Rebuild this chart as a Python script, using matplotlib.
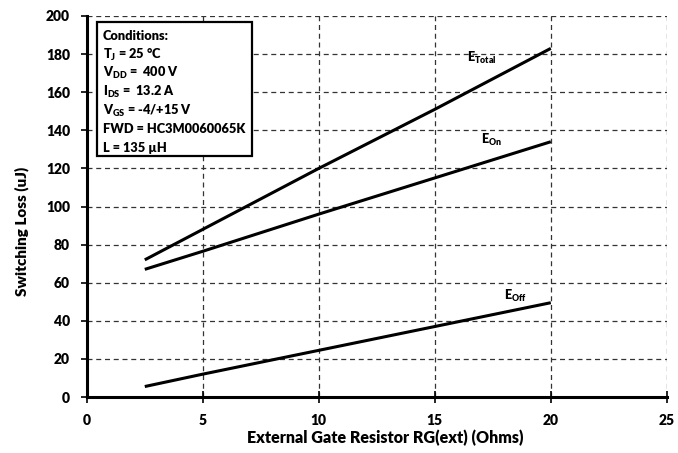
import matplotlib
matplotlib.use("Agg")
import matplotlib.pyplot as plt
from matplotlib.patches import Rectangle

plt.rcParams['font.family'] = ['Lato', 'DejaVu Sans']
plt.rcParams['mathtext.fontset'] = 'custom'
plt.rcParams['mathtext.rm'] = 'Lato'
plt.rcParams['mathtext.bf'] = 'Lato:heavy'
plt.rcParams['mathtext.it'] = 'Lato:italic'

# Data
rg = [2.5, 5, 10, 15, 20]
e_total = [72, 88, 120, 151, 183]
e_on = [67, 76.5, 96, 115, 134]
e_off = [5.5, 12, 24.5, 37, 49.5]

x_ticks = [0, 5, 10, 15, 20, 25]
y_ticks = [0, 20, 40, 60, 80, 100, 120, 140, 160, 180, 200]

conditions = [
    "Conditions:",
    r"T$_{\mathbf{J}}$ = 25 °C",
    r"V$_{\mathbf{DD}}$ =  400 V",
    r"I$_{\mathbf{DS}}$ =  13.2 A",
    r"V$_{\mathbf{GS}}$ = -4/+15 V",
    "FWD = HC3M0060065K",
    "L = 135 µH",
]

fig = plt.figure(figsize=(6.78, 4.53), dpi=100)
ax = fig.add_axes([0.128, 0.1236, 0.8555, 0.8411])

for y in (e_total, e_on, e_off):
    ax.plot(rg, y, color='black', linewidth=2.2, solid_capstyle='butt', zorder=3)

ax.set_xlim(0, 25)
ax.set_ylim(0, 200)
ax.set_xticks(x_ticks)
ax.set_yticks(y_ticks)
ax.grid(True, linestyle=(0, (4, 3)), color='#333333', linewidth=0.9)
ax.set_axisbelow(True)

for s in ('top', 'right'):
    ax.spines[s].set_visible(False)
for s in ('left', 'bottom'):
    ax.spines[s].set_linewidth(2.2)

ax.tick_params(axis='y', direction='out', length=4, width=1.2, labelsize=10, pad=8)
ax.tick_params(axis='x', direction='inout', length=8, width=1.2, labelsize=10, pad=8)
for lbl in ax.get_xticklabels() + ax.get_yticklabels():
    lbl.set_fontweight('heavy')

ax.set_xlabel("External Gate Resistor RG(ext) (Ohms)", fontsize=11.5, fontweight='heavy')
ax.set_ylabel("Switching Loss (uJ)", fontsize=11, fontweight='heavy')
ax.xaxis.set_label_coords(0.514, -0.085)
ax.yaxis.set_label_coords(-0.100, 0.435)

# Curve labels
ax.text(16.4, 178, r"E$_{\mathbf{Total}}$", fontsize=9, fontweight='heavy', ha='left', va='center')
ax.text(17.0, 135, r"E$_{\mathbf{On}}$", fontsize=9, fontweight='heavy', ha='left', va='center')
ax.text(18.0, 53, r"E$_{\mathbf{Off}}$", fontsize=9, fontweight='heavy', ha='left', va='center')

# Conditions box
ax.add_patch(Rectangle((0.017, 0.633), 0.267, 0.351, transform=ax.transAxes,
                       facecolor='white', edgecolor='black', linewidth=1.6, zorder=4))
y0 = 0.948
dy = 18.7 / 381
for i, line in enumerate(conditions):
    ax.text(0.028, y0 - i * dy, line, transform=ax.transAxes, fontsize=9.2,
            fontweight='heavy', ha='left', va='center', zorder=5)

fig.savefig("out.png", dpi=100)
